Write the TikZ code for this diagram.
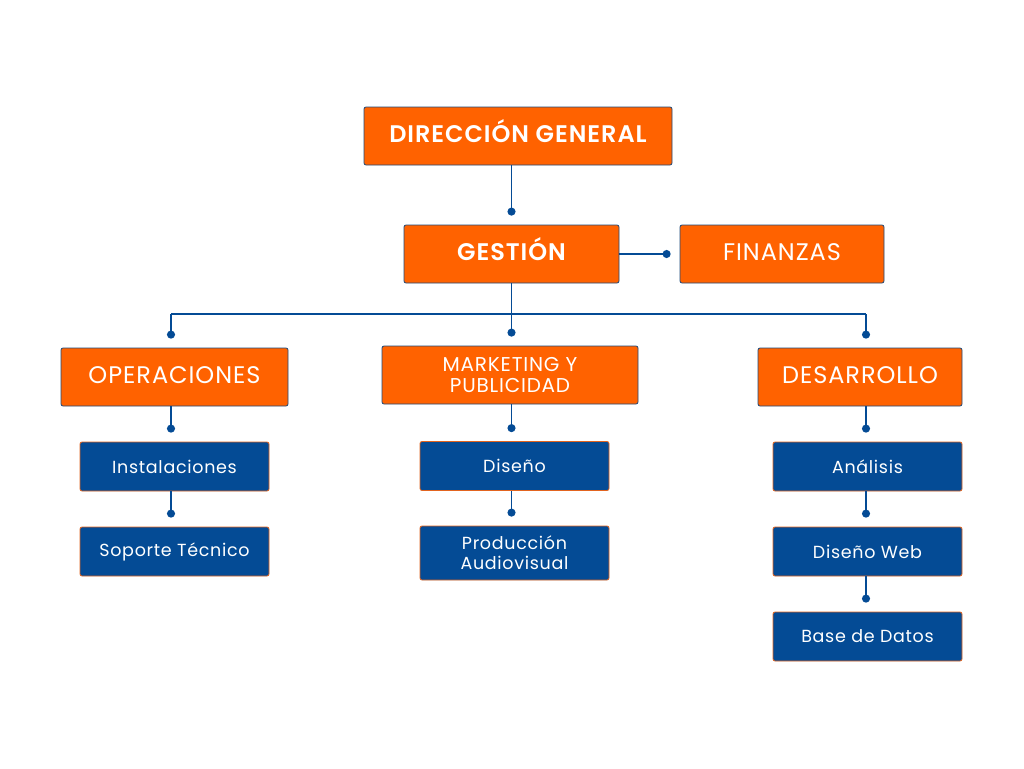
\documentclass[tikz,border=0pt]{standalone}
\usepackage{fontspec}
\setmainfont{Poppins}[BoldFont=Poppins SemiBold]
\usetikzlibrary{arrows.meta,positioning,calc}
\definecolor{naranja}{HTML}{FF6200}
\definecolor{azul}{HTML}{044B95}
\definecolor{bordeazul}{HTML}{1F4A7A}
\definecolor{bordenaranja}{HTML}{E2641F}
\newcommand{\espaciado}{\addfontfeatures{LetterSpace=4}}

\begin{document}
\begin{tikzpicture}[x=1pt,y=-1pt,
  jefe/.style={draw=bordeazul, fill=naranja, rounded corners=2pt, line width=0.8pt,
    text=white, minimum height=58pt, align=center, inner sep=0pt,
    font=\fontsize{24}{25}\selectfont\espaciado},
  mayus/.style={text height=12.8pt, text depth=0pt},
  area/.style={draw=bordenaranja, fill=azul, rounded corners=2pt, line width=0.8pt,
    text=white, minimum width=189pt, minimum height=49pt, align=center, inner sep=0pt,
    font=\fontsize{17.5}{20}\selectfont\espaciado},
  linea/.style={draw=azul, line width=1.6pt},
  enlace/.style={linea, -{Circle[length=8pt]}, shorten >=9pt}]

\fill[white] (0,0) rectangle (1024,768);
\useasboundingbox (0,0) rectangle (1024,768);

% Direccion
\node[jefe, mayus, minimum width=308pt, font=\bfseries\fontsize{24}{25}\selectfont\espaciado] (dir) at (518,136) {DIRECCIÓN GENERAL};
\node[jefe, mayus, minimum width=215pt, font=\bfseries\fontsize{24}{25}\selectfont\espaciado] (ges) at (511.5,254) {GESTIÓN};
\node[jefe, mayus, minimum width=204pt] (fin) at (782,254) {FINANZAS};

% Areas
\node[jefe, mayus, minimum width=227pt] (op) at (174.5,377) {OPERACIONES};
\node[jefe, minimum width=256pt, font=\fontsize{20}{21}\selectfont\espaciado] (mk) at (510,375) {MARKETING Y\\PUBLICIDAD};
\node[jefe, mayus, minimum width=204pt] (des) at (860,377) {DESARROLLO};

% Operaciones
\node[area] (ins) at (174.5,466.5) {Instalaciones};
\node[area] (sop) at (174.5,551.5) {Soporte Técnico};

% Marketing
\node[area] (dis) at (514.5,466) {Diseño};
\node[area, minimum height=54pt] (prod) at (514.5,553) {Producción\\Audiovisual};

% Desarrollo
\node[area] (ana) at (867.5,466.5) {Análisis};
\node[area] (web) at (867.5,551.5) {Diseño Web};
\node[area] (bd) at (867.5,636.5) {Base de Datos};

% Lineas
\coordinate (busizq) at (171,314);
\coordinate (busder) at (866,314);
\draw[enlace] (ges.north |- dir.south) -- (ges.north);
\draw[enlace] (ges.east) -- (fin.west);
\draw[linea] (ges.south) -- (ges.south |- busizq);
\draw[linea] (busizq) -- (busder);
\draw[enlace] (busizq) -- (busizq |- op.north);
\draw[enlace] (ges.south |- busizq) -- (ges.south |- mk.north);
\draw[enlace] (busder) -- (busder |- des.north);

\draw[enlace] (op.south -| busizq) -- (busizq |- ins.north);
\draw[enlace] (ins.south -| busizq) -- (busizq |- sop.north);
\draw[enlace] (mk.south -| ges.south) -- (ges.south |- dis.north);
\draw[enlace] (dis.south -| ges.south) -- (ges.south |- prod.north);
\draw[enlace] (des.south -| busder) -- (busder |- ana.north);
\draw[enlace] (ana.south -| busder) -- (busder |- web.north);
\draw[enlace] (web.south -| busder) -- (busder |- bd.north);

\end{tikzpicture}
\end{document}
